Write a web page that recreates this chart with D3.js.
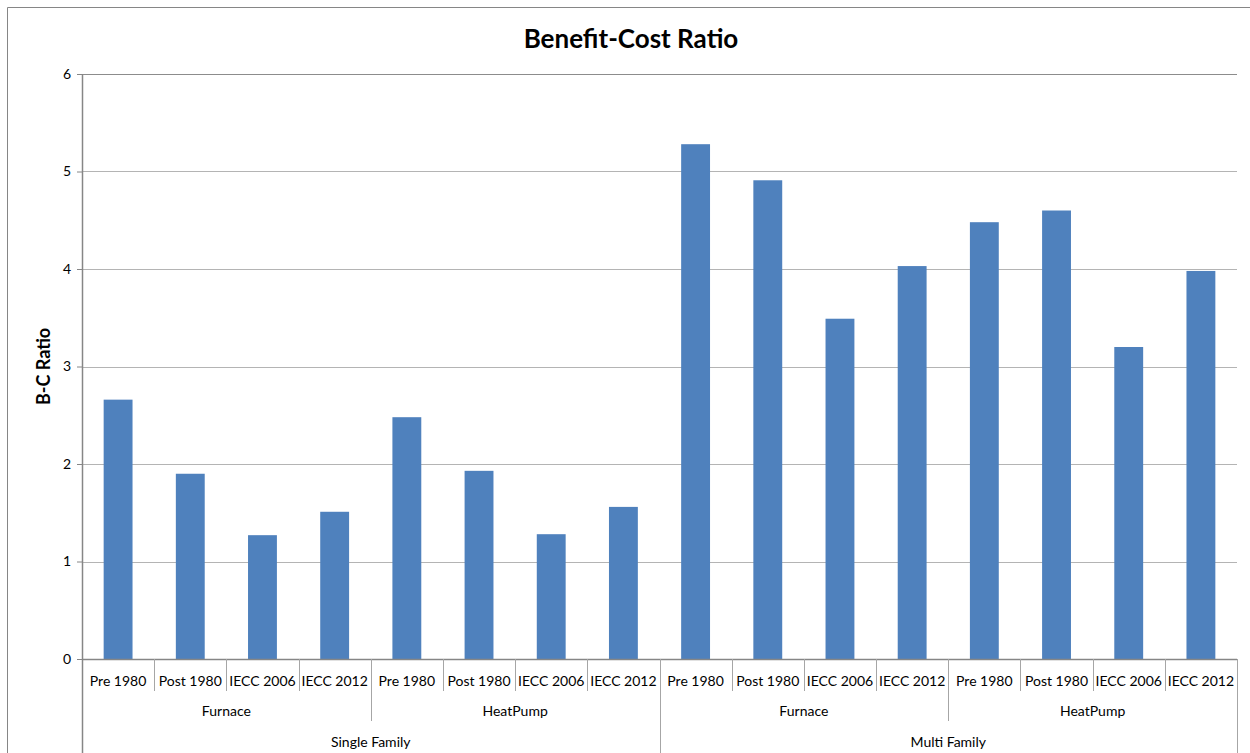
<!DOCTYPE html>
<html>
<head>
<meta charset="utf-8">
<script src="https://cdn.jsdelivr.net/npm/d3@7"></script>
<style>
  body { margin: 0; background: #fff; }
  svg text { font-family: Lato, "Open Sans", sans-serif; fill: #000; }
</style>
</head>
<body>
<div id="chart"></div>
<script>
// data
const vintages = ['Pre 1980', 'Post 1980', 'IECC 2006', 'IECC 2012'];
const systems = ['Furnace', 'HeatPump'];
const buildings = ['Single Family', 'Multi Family'];
const ratios = [2.66, 1.90, 1.27, 1.51, 2.48, 1.93, 1.28, 1.56,
                5.28, 4.91, 3.49, 4.03, 4.48, 4.60, 3.20, 3.98];
const yTicks = [0, 1, 2, 3, 4, 5, 6];

// flat list of categories
let rows = [];
buildings.forEach(b => systems.forEach(s => vintages.forEach(v => {
    rows.push({ building: b, system: s, vintage: v, key: b + '|' + s + '|' + v });
})));
rows.forEach((r, i) => r.value = ratios[i]);

const W = 1250, H = 753;
let margin = { top: 74, right: 13, bottom: 94, left: 82 },
    width = W - margin.left - margin.right,
    height = H - margin.top - margin.bottom;

let svg = d3.select('#chart').append('svg')
    .attr('width', W).attr('height', H);

// outer chart border
svg.append('path')
    .attr('d', 'M7.5,' + H + 'V7.5H' + W)
    .attr('fill', 'none').attr('stroke', '#868686');

svg.append('text')
    .attr('x', 631).attr('y', 48)
    .attr('text-anchor', 'middle')
    .style('font-size', '26px').style('font-weight', 'bold')
    .text('Benefit-Cost Ratio');

svg.append('text')
    .attr('text-anchor', 'middle')
    .attr('transform', 'translate(50,' + (margin.top + height / 2) + ')rotate(-90)')
    .style('font-size', '18px').style('font-weight', 'bold')
    .text('B-C Ratio');

let g = svg.append('g')
    .attr('transform', 'translate(' + margin.left + ',' + margin.top + ')');

let x = d3.scaleBand()
    .domain(rows.map(r => r.key))
    .range([0, width])
    .paddingInner(0.6).paddingOuter(0.3);

let y = d3.scaleLinear().domain([0, 6]).range([height, 0]);

// gridlines
g.append('g')
    .selectAll('line')
    .data(yTicks.filter(t => t > 0))
    .enter().append('line')
        .attr('x1', 0).attr('x2', width)
        .attr('y1', d => Math.round(y(d)) + 0.5)
        .attr('y2', d => Math.round(y(d)) + 0.5)
        .attr('stroke', d => d === 6 ? '#8c8c8c' : '#b4b4b4')
        .attr('stroke-width', 1.2);

// y axis
let yAxis = g.append('g')
    .call(d3.axisLeft(y).tickValues(yTicks).tickSize(5).tickPadding(6).tickFormat(d3.format('d')));
yAxis.select('.domain').remove();
yAxis.selectAll('.tick line').attr('stroke', '#868686');
yAxis.selectAll('.tick text').style('font-size', '14px').style('font-family', 'Lato, sans-serif');

// bars
g.append('g')
    .selectAll('rect')
    .data(rows)
    .enter().append('rect')
        .attr('x', d => x(d.key))
        .attr('y', d => y(d.value))
        .attr('width', x.bandwidth())
        .attr('height', d => y(0) - y(d.value))
        .attr('fill', '#4f81bd');

// axis lines
g.append('line')
    .attr('x1', 0.5).attr('x2', 0.5).attr('y1', 0).attr('y2', H - margin.top)
    .attr('stroke', '#868686').attr('stroke-width', 1.5);
g.append('line')
    .attr('x1', 0).attr('x2', width).attr('y1', height + 0.5).attr('y2', height + 0.5)
    .attr('stroke', '#868686').attr('stroke-width', 1.5);

// multi-level category labels
let step = x.step();
let start0 = x(rows[0].key) - x.paddingOuter() * step;
let catX = i => start0 + i * step;

let levels = [
    { n: 1, depth: 32, textY: 27, label: i => rows[i].vintage },
    { n: 4, depth: 62, textY: 57, label: i => rows[i].system },
    { n: 8, depth: H - margin.top - height, textY: 88, label: i => rows[i].building }
];

let lab = g.append('g').attr('transform', 'translate(0,' + height + ')');
levels.forEach(lv => {
    for (let i = lv.n; i <= rows.length; i += lv.n) {
        let xx = Math.round(catX(i)) + 0.5;
        lab.append('line')
            .attr('x1', xx).attr('x2', xx)
            .attr('y1', 0).attr('y2', lv.depth)
            .attr('stroke', '#a6a6a6');
    }
    for (let i = 0; i < rows.length; i += lv.n) {
        lab.append('text')
            .attr('x', catX(i) + lv.n * step / 2)
            .attr('y', lv.textY)
            .attr('text-anchor', 'middle')
            .style('font-size', '14px')
            .text(lv.label(i));
    }
});
</script>
</body>
</html>
